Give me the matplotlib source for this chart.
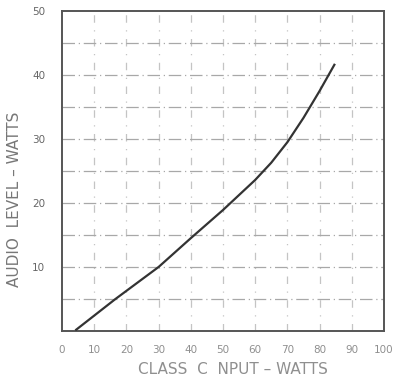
import matplotlib
matplotlib.use("Agg")
import matplotlib.pyplot as plt
import numpy as np

# data
input_watts = [4.4, 16.6, 30, 40, 50, 60, 65, 70, 75, 80, 84.6]
audio_watts = [0.2, 5.0, 10.0, 14.5, 18.9, 23.6, 26.3, 29.5, 33.3, 37.5, 41.6]
x_ticks = [0, 10, 20, 30, 40, 50, 60, 70, 80, 90, 100]
x_tick_labels = ["0", "10", "20", "30", "40", "50", "60", "70", "80", "90", "100"]
y_ticks = [10, 20, 30, 40, 50]
y_tick_labels = ["10", "20", "30", "40", "50"]
x_label = "CLASS  C  NPUT – WATTS"
y_label = "AUDIO  LEVEL – WATTS"

fig = plt.figure(figsize=(3.95, 3.8), dpi=100)
ax = fig.add_axes([0.157, 0.129, 0.815, 0.842])

gray = "#8f8f8f"
ax.set_xlim(0, 100)
ax.set_ylim(0, 50)

for xv in np.arange(10, 100, 10):
    ax.axvline(xv, color="#c4c4c4", lw=0.9, ls=(0, (6, 6, 1, 6)), zorder=1)
for yv in np.arange(5, 50, 5):
    ax.axhline(yv, color="#a8a8a8", lw=0.9, ls=(0, (10, 3, 1, 3)), zorder=1)

ax.plot(input_watts, audio_watts, color="#333333", lw=1.6, zorder=3,
        solid_joinstyle="round")

ax.set_xticks(x_ticks)
ax.set_xticklabels(x_tick_labels)
ax.set_yticks(y_ticks)
ax.set_yticklabels(y_tick_labels)
ax.tick_params(length=0, labelsize=7.5, colors=gray)
ax.tick_params(axis="x", pad=10)
ax.tick_params(axis="y", pad=12)
for lab in ax.get_yticklabels():
    lab.set_color("#666666")

for s in ax.spines.values():
    s.set_color("#555555")
    s.set_linewidth(1.4)

ax.set_xlabel(x_label, fontsize=11, color=gray)
ax.xaxis.set_label_coords(0.53, -0.097)
ax.set_ylabel(y_label, fontsize=11, color="#777777")
ax.yaxis.set_label_coords(-0.125, 0.41)

fig.savefig("out.png", dpi=100)
